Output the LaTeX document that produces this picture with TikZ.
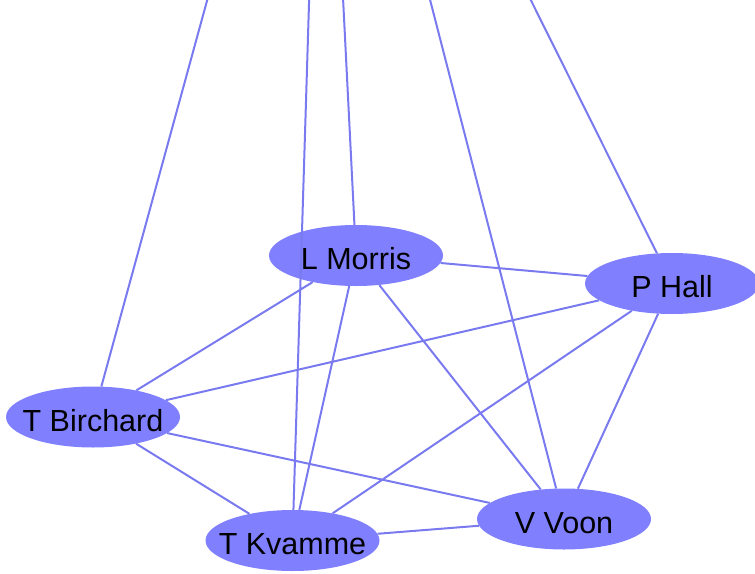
\documentclass[tikz,border=0pt]{standalone}
\usepackage{fontspec}
\setmainfont{Liberation Sans}
\usetikzlibrary{shapes.geometric}
\definecolor{nodefill}{RGB}{128,128,255}
\definecolor{edgecol}{RGB}{122,122,240}
\begin{document}
\begin{tikzpicture}[x=1pt,y=-1pt,
  person/.style={ellipse,fill=nodefill,draw=none,minimum width=174pt,minimum height=61pt,inner sep=0pt},
  every label/.style={font=\fontsize{30.5}{30}\selectfont,text height=28pt,text depth=0pt,inner sep=0pt},
  link/.style={draw=edgecol,line width=2pt}]
\useasboundingbox (0,0) rectangle (755,573);
\clip (0,0) rectangle (755,573);
\coordinate (top) at (322,-419);
\node[person,label=center:{L Morris}] (lm) at (356,255.5) {};
\node[person,label=center:{P Hall}] (ph) at (672,283.5) {};
\node[person,label=center:{T Birchard}] (tb) at (93,417) {};
\node[person,label=center:{V Voon}] (vv) at (564,519) {};
\node[person,label=center:{T Kvamme}] (tk) at (292.5,540.5) {};
\path[link] (tb) -- (top) (tk) -- (top) (lm) -- (top) (vv) -- (top) (ph) -- (top)
  (tb) -- (lm) (tb) -- (ph) (tb) -- (vv) (tb) -- (tk)
  (lm) -- (ph) (lm) -- (vv) (lm) -- (tk)
  (ph) -- (vv) (ph) -- (tk)
  (vv) -- (tk);
\end{tikzpicture}
\end{document}
